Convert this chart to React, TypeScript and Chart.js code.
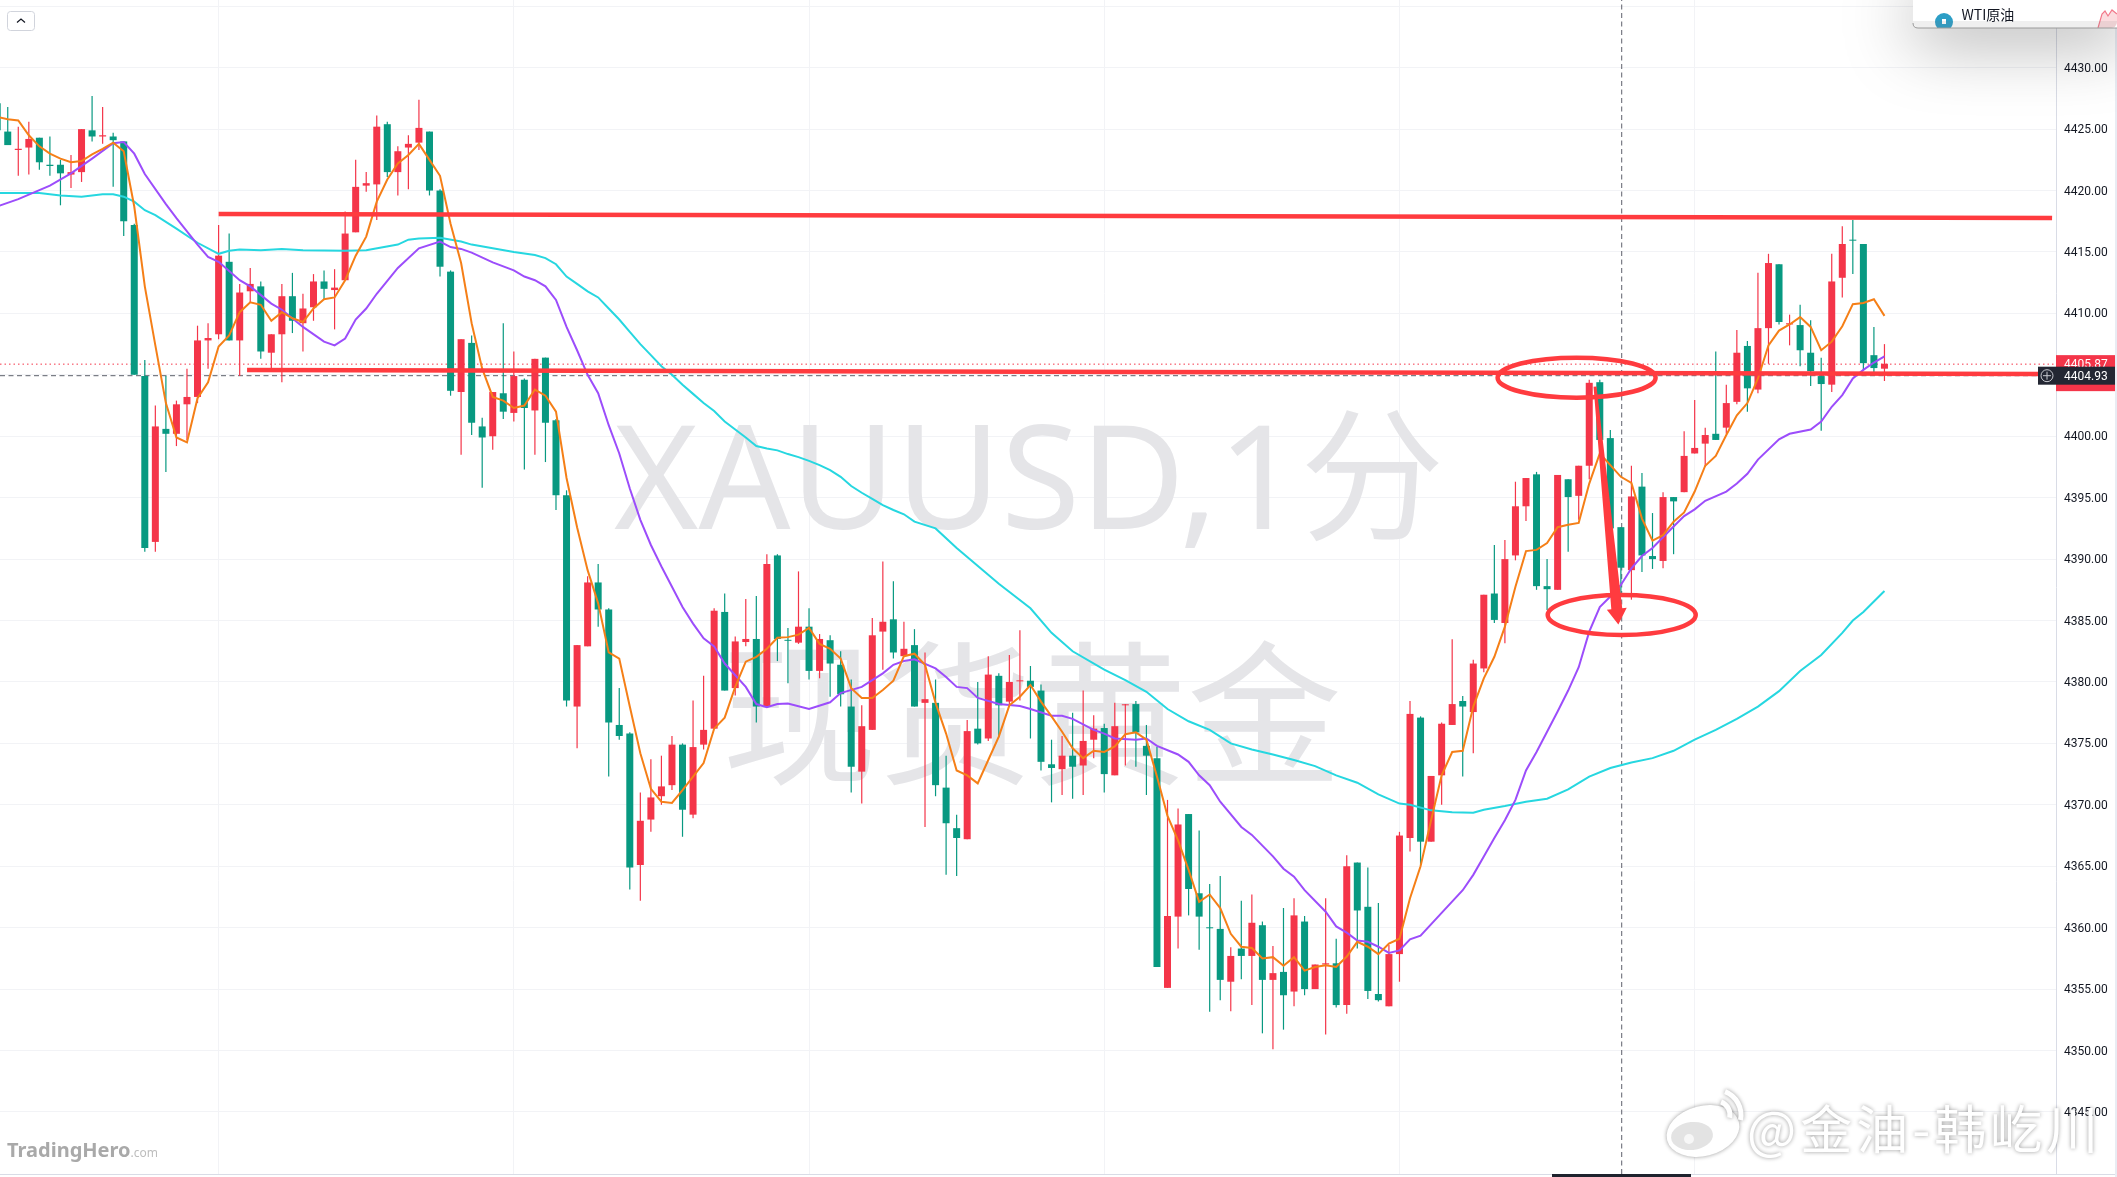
import React, { useEffect, useRef } from 'react';
import { Chart, registerables } from 'chart.js';

Chart.register(...registerables);

const opens = [
  4427.1,4424.8,4423.3,4423.5,4424.3,4422.1,4422.1,4421.3,4421.5,4424.9,
  4424.4,4424.4,4424.0,4417.2,4404.9,4391.4,4400.6,4400.2,4402.6,4403.2,
  4407.8,4408.3,4414.2,4407.8,4411.8,4412.2,4406.8,4408.3,4411.4,4409.2,
  4410.5,4412.6,4411.9,4412.7,4416.6,4420.4,4420.5,4425.4,4421.5,4423.5,
  4423.9,4424.8,4420.0,4413.4,4403.6,4407.6,4400.8,4400.0,4403.5,4401.9,
  4404.6,4402.1,4406.4,4401.3,4395.2,4378.0,4382.9,4388.1,4385.9,4376.5,
  4375.8,4365.1,4368.8,4370.7,4371.6,4374.9,4369.2,4374.9,4376.2,4385.7,
  4379.5,4383.25,4383.5,4378.0,4390.3,4383.4,4383.2,4384.5,4380.9,4383.4,
  4381.4,4378.0,4372.7,4376.1,4384.1,4385.1,4382.1,4383.0,4378.3,4378.3,
  4371.4,4368.1,4367.2,4376.2,4375.4,4380.5,4378.4,4380.05,4380.1,4379.3,
  4373.3,4372.9,4374.0,4373.2,4375.3,4376.25,4372.4,4378.1,4378.2,4374.8,
  4373.8,4355.1,4360.9,4369.25,4362.8,4360.0,4359.9,4355.6,4358.3,4357.7,
  4360.2,4355.75,4356.4,4354.8,4360.5,4355.0,4357.0,4357.1,4353.7,4365.3,
  4361.7,4354.6,4353.6,4357.85,4367.3,4377.1,4367.0,4372.4,4376.5,4378.45,
  4377.55,4381.1,4387.2,4384.8,4390.3,4394.3,4396.9,4387.8,4387.5,4396.5,
  4395.15,4397.6,4404.4,4399.85,4392.6,4389.1,4395.9,4390.25,4389.85,4395.05,
  4395.45,4398.6,4399.4,4400.2,4400.7,4402.8,4407.35,4403.8,4408.8,4414.0,
  4409.1,4409.05,4406.8,4404.9,4404.2,4412.9,4415.97,4415.65,4406.6,4405.5,
];

const closes = [
  4424.9,4423.7,4423.4,4424.2,4422.3,4422.0,4421.4,4421.5,4425.0,4424.4,
  4424.5,4424.1,4417.5,4405.0,4390.9,4400.8,4400.2,4402.6,4403.2,4407.8,
  4408.0,4414.7,4407.8,4411.7,4412.4,4406.9,4408.3,4411.4,4409.4,4410.4,
  4412.6,4412.0,4412.1,4416.5,4420.3,4420.6,4425.2,4421.5,4423.2,4423.8,
  4425.1,4420.0,4413.8,4403.7,4407.9,4401.1,4399.9,4403.6,4402.0,4404.9,
  4402.3,4406.3,4401.1,4395.2,4378.5,4383.0,4388.1,4385.9,4376.7,4375.6,
  4364.9,4368.7,4370.6,4371.5,4374.9,4369.6,4374.7,4376.1,4385.8,4379.3,
  4383.3,4383.5,4378.0,4389.6,4383.5,4383.35,4384.5,4380.9,4383.5,4381.5,
  4379.0,4373.1,4376.4,4383.8,4384.9,4382.4,4382.7,4378.0,4378.6,4371.6,
  4368.5,4367.3,4376.0,4375.0,4380.6,4378.1,4380.0,4380.1,4379.6,4373.5,
  4373.0,4374.0,4373.1,4375.2,4376.2,4372.5,4376.4,4378.15,4375.9,4374.0,
  4356.8,4360.95,4368.4,4363.15,4360.9,4359.95,4355.75,4357.7,4357.7,4360.4,
  4355.75,4356.3,4354.5,4361.0,4355.0,4357.0,4357.1,4353.7,4365.0,4361.4,
  4354.85,4354.1,4357.85,4367.5,4377.4,4367.0,4372.35,4376.6,4378.2,4378.0,
  4381.5,4387.1,4385.05,4390.0,4394.3,4396.6,4387.8,4387.55,4396.85,4395.05,
  4397.6,4404.35,4399.7,4392.5,4389.3,4395.1,4390.3,4390.0,4395.05,4394.7,
  4398.4,4399.05,4400.1,4399.7,4402.7,4406.8,4403.9,4408.8,4414.1,4409.3,
  4409.2,4407.0,4405.3,4404.25,4412.6,4415.65,4415.92,4405.95,4405.55,4405.9,
];

const highs = [
  4427.2,4426.8,4425.2,4425.6,4424.3,4424.4,4422.5,4422.9,4425.0,4427.7,
  4426.8,4424.7,4424.0,4417.3,4406.2,4402.5,4404.9,4402.9,4405.5,4409.0,
  4409.2,4417.2,4416.5,4412.4,4413.7,4412.6,4408.3,4412.4,4413.3,4411.6,
  4413.2,4413.5,4413.6,4418.3,4422.5,4421.5,4426.1,4425.6,4423.6,4424.5,
  4427.4,4424.8,4420.1,4413.5,4407.9,4408.2,4401.5,4403.6,4409.2,4406.9,
  4404.7,4406.3,4406.4,4401.4,4395.6,4383.0,4388.6,4389.6,4386.0,4379.5,
  4375.9,4371.0,4373.7,4374.0,4375.6,4375.0,4378.5,4380.5,4386.0,4387.2,
  4383.7,4386.75,4387.0,4390.4,4390.4,4384.4,4389.0,4386.0,4383.9,4383.8,
  4382.5,4380.2,4378.1,4385.2,4389.8,4388.2,4384.9,4384.3,4382.4,4380.2,
  4374.0,4369.2,4376.9,4380.0,4382.1,4380.7,4382.2,4384.2,4381.3,4379.8,
  4375.3,4375.6,4377.5,4379.3,4377.3,4376.6,4378.3,4378.2,4378.45,4376.5,
  4374.7,4370.4,4369.7,4369.25,4367.9,4363.55,4364.2,4358.4,4362.2,4362.7,
  4360.5,4358.5,4361.6,4362.4,4360.95,4357.0,4362.4,4359.1,4365.9,4365.3,
  4364.9,4362.0,4358.6,4367.8,4378.45,4377.2,4372.35,4376.7,4383.47,4378.85,
  4381.8,4387.1,4391.15,4391.55,4396.3,4396.6,4397.1,4390.0,4396.85,4396.5,
  4397.6,4404.6,4404.6,4400.5,4392.6,4397.6,4397.0,4393.75,4395.45,4395.05,
  4400.4,4402.95,4400.7,4406.9,4404.2,4408.65,4407.75,4413.3,4414.85,4414.0,
  4409.9,4410.7,4409.45,4406.4,4414.85,4417.1,4417.6,4415.65,4408.9,4407.5,
];

const lows = [
  4424.9,4423.7,4421.2,4421.3,4421.7,4421.2,4418.8,4420.2,4420.7,4424.0,
  4423.8,4420.3,4416.3,4405.0,4390.6,4390.6,4397.1,4399.2,4399.7,4402.7,
  4405.5,4407.9,4407.8,4404.9,4410.9,4406.3,4405.5,4404.4,4408.4,4406.9,
  4409.4,4411.1,4408.7,4412.7,4416.6,4419.9,4417.6,4421.1,4419.6,4420.1,
  4423.3,4419.6,4413.0,4403.3,4398.5,4400.1,4395.8,4398.9,4401.4,4401.2,
  4397.3,4398.5,4397.9,4394.0,4378.0,4374.6,4382.9,4384.5,4372.3,4375.3,
  4363.1,4362.2,4367.8,4370.0,4371.2,4367.4,4368.9,4374.5,4376.2,4379.3,
  4378.9,4382.9,4376.7,4378.0,4381.7,4379.9,4383.1,4380.2,4380.3,4378.8,
  4378.0,4371.0,4370.1,4376.1,4381.0,4381.9,4382.1,4378.0,4368.2,4370.7,
  4364.3,4364.2,4367.2,4374.9,4375.2,4375.5,4378.1,4378.5,4375.4,4372.8,
  4370.2,4370.8,4370.5,4370.8,4373.8,4371.0,4372.4,4373.2,4373.1,4370.8,
  4356.8,4355.1,4358.3,4361.0,4358.2,4353.15,4354.1,4353.2,4355.8,4353.7,
  4351.4,4350.1,4351.7,4353.6,4354.5,4355.0,4351.3,4353.5,4353.0,4358.3,
  4354.2,4354.0,4353.6,4355.6,4366.2,4365.1,4367.0,4370.0,4376.5,4372.3,
  4374.2,4380.8,4384.8,4383.15,4389.9,4393.1,4387.5,4385.85,4387.5,4390.6,
  4393.2,4396.5,4399.7,4392.5,4387.0,4386.7,4388.95,4389.2,4389.25,4390.4,
  4395.45,4398.6,4397.5,4399.7,4400.2,4402.6,4402.0,4403.5,4405.9,4409.1,
  4407.4,4405.7,4404.1,4400.45,4403.6,4411.3,4413.2,4405.4,4405.2,4404.5,
];

const orangeLine = [
  4426.0,4425.8,4425.7,4424.5,4423.6,4423.0,4422.6,4422.3,4422.4,4422.95,
  4423.4,4423.9,4423.2,4418.7,4412.2,4407.4,4402.7,4399.9,4399.5,4403.1,
  4404.4,4407.3,4408.2,4410.1,4410.9,4410.7,4409.4,4410.1,4409.6,4409.3,
  4410.4,4411.15,4411.3,4412.7,4414.7,4416.25,4419.1,4420.9,4422.2,4422.9,
  4423.8,4422.5,4421.2,4417.3,4414.1,4409.2,4405.5,4403.2,4402.9,4402.3,
  4402.5,4403.8,4403.3,4402.0,4396.6,4392.6,4389.1,4386.4,4382.4,4381.9,
  4378.0,4374.2,4371.3,4370.25,4370.15,4371.2,4372.3,4373.4,4376.2,4377.1,
  4379.6,4381.65,4382.05,4382.7,4383.6,4383.65,4383.85,4384.4,4383.1,4382.7,
  4381.9,4379.5,4378.7,4378.7,4379.35,4380.1,4382.1,4382.3,4381.4,4378.3,
  4375.8,4372.8,4372.4,4371.75,4373.65,4375.55,4378.1,4378.8,4379.75,4378.4,
  4377.2,4375.95,4374.6,4373.8,4374.4,4374.3,4374.75,4375.75,4375.9,4375.3,
  4372.3,4369.1,4367.1,4364.7,4362.1,4362.7,4361.6,4359.5,4358.45,4358.35,
  4357.5,4357.6,4356.9,4357.6,4356.5,4356.8,4356.95,4356.8,4357.65,4358.85,
  4358.45,4357.85,4358.7,4359.1,4362.4,4365.0,4368.75,4372.4,4374.3,4374.4,
  4378.0,4380.3,4382.05,4384.5,4387.75,4390.65,4390.75,4391.3,4392.6,4392.8,
  4392.95,4396.15,4398.6,4397.65,4396.7,4396.2,4393.3,4391.5,4391.95,4393.05,
  4393.8,4395.5,4397.6,4398.4,4400.1,4401.7,4402.7,4404.7,4407.4,4408.6,
  4409.1,4409.7,4408.9,4407.0,4407.7,4408.95,4410.75,4410.85,4411.15,4409.8,
];

// the two slower averages are smooth, so they were read at fewer bars
const purpleBars = [
  0,2,5,7,9,11,12,13,14,16,17,19,20,21,23,24,26,27,29,31,32,33,34,35,36,38,40,42,43,44,45,47,49,50,51,52,53,54,55,56,57,58,59,60,61,
  62,63,65,66,67,68,69,71,72,73,74,75,77,79,80,82,84,85,86,87,89,90,91,92,93,95,97,98,100,101,102,104,105,106,108,109,110,112,113,114,115,116,
  118,119,121,122,123,124,126,127,128,129,130,131,132,133,134,135,137,139,140,141,142,143,144,145,146,147,148,149,150,151,152,153,154,155,156,157,
  159,160,161,162,164,165,166,167,169,170,172,173,174,175,176,177,178,179,
];
const purpleValues = [
  4418.7,4419.3,4420.4,4421.4,4422.6,4423.85,4423.95,4423.0,4421.35,4418.9,4417.75,4415.6,4414.6,4414.2,4412.7,4412.2,4410.8,4410.3,4408.9,4407.7,4407.4,4407.95,4409.5,4410.4,4411.6,4413.7,4415.3,4415.85,4415.4,4415.25,4414.95,4414.15,4413.5,4413.0,4412.7,4412.2,4411.1,4408.9,4407.0,4405.0,4403.5,4400.9,4398.6,4395.75,4393.2,
  4391.15,4389.4,4386.1,4384.75,4383.55,4382.9,4381.5,4379.6,4378.2,4377.95,4378.2,4378.25,4377.8,4378.35,4379.1,4379.6,4380.7,4381.4,4381.7,4381.85,4381.1,4380.4,4379.6,4379.5,4378.7,4378.2,4378.05,4377.8,4377.25,4377.25,4377.0,4376.1,4375.8,4375.4,4375.3,4375.4,4374.8,4374.1,4373.5,4372.4,4371.6,4370.25,
  4368.2,4367.55,4365.8,4364.8,4364.15,4363.05,4361.3,4360.1,4359.6,4358.95,4358.85,4358.45,4357.95,4358.15,4359.05,4359.35,4361.2,4363.05,4364.3,4365.8,4367.3,4368.75,4370.4,4372.8,4374.3,4375.95,4377.6,4379.3,4381.2,4384.1,4386.1,4386.95,4387.9,4389.25,4390.25,4390.9,
  4392.65,4393.5,4394.05,4394.75,4395.5,4396.15,4396.95,4398.1,4399.75,4400.2,4400.55,4401.2,4402.4,4403.35,4404.7,4405.4,4406.0,4406.5,
];

const cyanBars = [
  0,2,4,6,8,10,11,12,13,14,15,17,19,21,22,23,25,27,29,33,35,38,39,40,42,44,45,47,49,51,52,53,54,55,56,57,58,59,60,61,62,63,64,65,66,67,68,69,70,71,72,73,74,75,76,77,78,79,80,81,82,83,84,85,86,87,
  89,91,95,98,100,102,105,107,109,111,113,115,117,119,121,123,125,127,129,131,133,134,136,138,140,141,143,145,147,149,151,153,155,157,159,161,163,165,167,169,171,173,175,176,177,179,
];
const cyanValues = [
  4419.8,4419.8,4419.8,4419.6,4419.5,4419.7,4419.7,4419.5,4419.1,4418.4,4418.0,4416.9,4415.75,4414.85,4415.1,4415.2,4415.15,4415.25,4415.15,4415.1,4415.15,4415.6,4416.0,4416.1,4416.15,4415.85,4415.6,4415.3,4415.0,4414.75,4414.5,4414.0,4413.0,4412.4,4411.8,4411.3,4410.4,4409.5,4408.5,4407.5,4406.6,4405.7,4405.0,4404.2,4403.45,4402.7,4402.05,4401.2,4400.55,4399.9,4399.2,4399.0,4398.85,4398.55,4398.3,4398.0,4397.65,4397.25,4396.7,4395.95,4395.4,4394.9,4394.4,4394.0,4393.65,4393.05,
  4392.5,4390.9,4388.0,4386.0,4384.0,4382.5,4381.0,4380.15,4379.2,4377.8,4376.8,4376.1,4375.0,4374.5,4374.1,4373.65,4373.15,4372.4,4371.8,4370.85,4370.1,4370.0,4369.55,4369.4,4369.35,4369.6,4369.9,4370.25,4370.5,4371.25,4372.3,4373.0,4373.45,4373.8,4374.4,4375.3,4376.1,4377.0,4378.0,4379.25,4380.9,4382.2,4384.0,4385.0,4385.7,4387.4,
];

const tickValues = [4345,4350,4355,4360,4365,4370,4375,4380,4385,4390,4395,4400,4405,4410,4415,4420,4425,4430,4435];
const gridBars = [21,49,77,105,133,161];

const lastPrice = 4405.87;
const crossPrice = 4404.93;
const crossBar = 154.08;
const upperLevel = { bars: [21, 194.9], prices: [4418.09, 4417.77] };
const lowerLevel = { bars: [23.7, 194], prices: [4405.4, 4405.07] };

const RED = '#f43549';
const GREEN = '#089981';
const MARK_RED = '#ff3b3f';

const toXY = (xs: number[], ys: number[]) => xs.map((x, i) => ({ x, y: ys[i] }));
const barIndex = opens.map((_, i) => i);
const candleColor = closes.map((c, i) => (c >= opens[i] ? RED : GREEN));

const X_MIN = 0.266;
const X_MAX = 195.27;
const Y_MIN = 4339.95;
const Y_MAX = 4435.51;

const overlayPlugin = {
  id: 'overlay',
  beforeDatasetsDraw(chart: any) {
    const { ctx } = chart;
    ctx.save();
    ctx.fillStyle = '#e5e5e8';
    ctx.textBaseline = 'alphabetic';
    ctx.textAlign = 'left';
    ctx.font = '144px "Noto Sans", "Noto Sans CJK SC", sans-serif';
    ctx.fillText('XAUUSD,1分', 614, 529);
    ctx.font = '155px "Noto Sans CJK SC", sans-serif';
    ctx.fillText('现货黄金', 722, 772);
    ctx.restore();
  },
  afterDatasetsDraw(chart: any) {
    const { ctx, scales } = chart;
    const x = scales.x;
    const y = scales.y;
    ctx.save();
    ctx.strokeStyle = MARK_RED;
    ctx.lineWidth = 4.5;
    ctx.beginPath();
    ctx.ellipse(x.getPixelForValue(149.8), y.getPixelForValue(4404.77), 79, 20, 0, 0, Math.PI * 2);
    ctx.stroke();
    ctx.beginPath();
    ctx.ellipse(x.getPixelForValue(crossBar), y.getPixelForValue(4385.45), 74, 20, 0, 0, Math.PI * 2);
    ctx.stroke();

    // hand drawn arrow, thin at the start and wide at the head
    const x0 = x.getPixelForValue(151.55);
    const y0 = y.getPixelForValue(4404.04);
    const x1 = x.getPixelForValue(153.76);
    const y1 = y.getPixelForValue(4384.67);
    const len = Math.hypot(x1 - x0, y1 - y0);
    const ux = (x1 - x0) / len;
    const uy = (y1 - y0) / len;
    const nx = -uy;
    const ny = ux;
    const hx = x1 - ux * 16;
    const hy = y1 - uy * 16;
    ctx.fillStyle = MARK_RED;
    ctx.beginPath();
    ctx.moveTo(x0 + nx * 1.5, y0 + ny * 1.5);
    ctx.lineTo(hx + nx * 5.5, hy + ny * 5.5);
    ctx.lineTo(hx + nx * 10, hy + ny * 10);
    ctx.lineTo(x1, y1);
    ctx.lineTo(hx - nx * 10, hy - ny * 10);
    ctx.lineTo(hx - nx * 5.5, hy - ny * 5.5);
    ctx.lineTo(x0 - nx * 1.5, y0 - ny * 1.5);
    ctx.closePath();
    ctx.fill();
    ctx.restore();
  },
  afterDraw(chart: any) {
    const { ctx, scales } = chart;
    const y = scales.y;
    ctx.save();

    // frame
    ctx.fillStyle = '#d9dce6';
    ctx.fillRect(0, 1174, 2117, 1);
    ctx.fillStyle = '#e9ecf3';
    ctx.fillRect(2115, 0, 2, 1177);
    ctx.fillStyle = '#1e222d';
    ctx.fillRect(1552, 1174, 139, 3);

    // price labels
    const lastY = y.getPixelForValue(lastPrice);
    const crossY = y.getPixelForValue(crossPrice);
    ctx.fillStyle = RED;
    ctx.fillRect(2056, lastY - 9, 59, 36);
    ctx.font = '12px Roboto, sans-serif';
    ctx.textBaseline = 'middle';
    ctx.textAlign = 'left';
    ctx.fillStyle = '#ffffff';
    ctx.fillText(lastPrice.toFixed(2), 2064, lastY + 1);
    ctx.fillStyle = '#232733';
    ctx.fillRect(2056, crossY - 9, 59, 18);
    ctx.fillRect(2038, crossY - 9, 18, 18);
    ctx.fillStyle = '#ffffff';
    ctx.fillText(crossPrice.toFixed(2), 2064, crossY + 1);
    ctx.strokeStyle = '#c8cad0';
    ctx.lineWidth = 1;
    ctx.beginPath();
    ctx.arc(2047, crossY, 6, 0, Math.PI * 2);
    ctx.moveTo(2043, crossY);
    ctx.lineTo(2051, crossY);
    ctx.moveTo(2047, crossY - 4);
    ctx.lineTo(2047, crossY + 4);
    ctx.stroke();

    // collapse button
    ctx.strokeStyle = '#d1d4dc';
    ctx.beginPath();
    ctx.roundRect(7.5, 11.5, 27, 19, 3);
    ctx.stroke();
    ctx.strokeStyle = '#131722';
    ctx.lineWidth = 1.2;
    ctx.beginPath();
    ctx.moveTo(17, 22.5);
    ctx.lineTo(21, 19);
    ctx.lineTo(25, 22.5);
    ctx.stroke();

    // popup in the top right corner
    ctx.save();
    ctx.shadowColor = 'rgba(0,0,0,0.4)';
    ctx.shadowBlur = 70;
    ctx.shadowOffsetY = 10;
    ctx.fillStyle = '#ffffff';
    ctx.beginPath();
    ctx.roundRect(1913, -12, 214, 40, 6);
    ctx.fill();
    ctx.restore();
    ctx.save();
    ctx.beginPath();
    ctx.roundRect(1913, -12, 204, 40, 6);
    ctx.clip();
    ctx.fillStyle = '#ffffff';
    ctx.fillRect(1913, 0, 204, 28);
    ctx.fillStyle = '#2c9ec6';
    ctx.beginPath();
    ctx.arc(1944, 22, 9, 0, Math.PI * 2);
    ctx.fill();
    ctx.fillStyle = '#ffffff';
    ctx.fillRect(1942, 19, 4, 5);
    ctx.fillStyle = '#131722';
    ctx.font = '14px "Noto Sans CJK SC", sans-serif';
    ctx.fillText('WTI原油', 1961.5, 15);
    ctx.fillStyle = '#fbdcdf';
    ctx.beginPath();
    ctx.moveTo(2098, 28);
    ctx.lineTo(2102, 14);
    ctx.lineTo(2105, 11);
    ctx.lineTo(2108, 16);
    ctx.lineTo(2112, 10);
    ctx.lineTo(2117, 14);
    ctx.lineTo(2117, 28);
    ctx.closePath();
    ctx.fill();
    ctx.strokeStyle = '#f2788a';
    ctx.beginPath();
    ctx.moveTo(2098, 28);
    ctx.lineTo(2102, 14);
    ctx.lineTo(2105, 11);
    ctx.lineTo(2108, 16);
    ctx.lineTo(2112, 10);
    ctx.lineTo(2117, 14);
    ctx.stroke();
    ctx.fillStyle = 'rgba(120,120,120,0.12)';
    ctx.fillRect(1913, 21, 204, 7);
    ctx.restore();
    ctx.strokeStyle = '#9a9a9a';
    ctx.lineWidth = 1;
    ctx.beginPath();
    ctx.moveTo(1913, 23);
    ctx.quadraticCurveTo(1913, 28, 1918, 28);
    ctx.lineTo(2117, 28);
    ctx.stroke();

    // site mark
    ctx.textBaseline = 'alphabetic';
    ctx.fillStyle = '#a9a9a9';
    ctx.font = 'bold 20px "Noto Sans", sans-serif';
    ctx.fillText('TradingHero', 7, 1157);
    const siteWidth = ctx.measureText('TradingHero').width;
    ctx.fillStyle = '#bdbdbd';
    ctx.font = '12px "Noto Sans", sans-serif';
    ctx.fillText('.com', 7 + siteWidth, 1157);

    // weibo mark
    ctx.save();
    ctx.shadowColor = 'rgba(0,0,0,0.4)';
    ctx.shadowBlur = 4;
    ctx.fillStyle = '#ffffff';
    ctx.beginPath();
    ctx.ellipse(1703, 1131, 37, 25, -0.25, 0, Math.PI * 2);
    ctx.fill();
    ctx.font = '52px "Noto Sans CJK SC", sans-serif';
    ctx.letterSpacing = '4px';
    ctx.fillText('@金油-韩屹川', 1747, 1149);
    ctx.letterSpacing = '0px';
    ctx.strokeStyle = '#ffffff';
    ctx.lineWidth = 5;
    ctx.beginPath();
    ctx.arc(1716, 1115, 14, -1.2, 0.2);
    ctx.stroke();
    ctx.beginPath();
    ctx.arc(1716, 1115, 25, -1.2, 0.2);
    ctx.stroke();
    ctx.restore();
    ctx.fillStyle = '#e3e3e3';
    ctx.beginPath();
    ctx.ellipse(1692, 1136, 21, 14, -0.1, 0, Math.PI * 2);
    ctx.fill();
    ctx.fillStyle = '#f7f7f7';
    ctx.beginPath();
    ctx.arc(1689, 1139, 5, 0, Math.PI * 2);
    ctx.fill();
    ctx.restore();
  },
};

export default function App() {
  const chartRef = useRef<HTMLCanvasElement>(null);

  useEffect(() => {
    if (!chartRef.current) return;
    const chart = new Chart(chartRef.current, {
      type: 'bar',
      data: {
        datasets: [
          {
            type: 'line',
            data: toXY(upperLevel.bars, upperLevel.prices),
            borderColor: MARK_RED,
            borderWidth: 4.5,
            pointRadius: 0,
            order: 0,
          },
          {
            type: 'line',
            data: toXY(lowerLevel.bars, lowerLevel.prices),
            borderColor: MARK_RED,
            borderWidth: 4.5,
            pointRadius: 0,
            order: 0,
          },
          {
            type: 'line',
            data: toXY(barIndex, orangeLine),
            borderColor: '#f57f17',
            borderWidth: 2,
            pointRadius: 0,
            tension: 0,
            order: 1,
          },
          {
            type: 'line',
            data: toXY(purpleBars, purpleValues),
            borderColor: '#9c4dfb',
            borderWidth: 2,
            pointRadius: 0,
            tension: 0,
            order: 2,
          },
          {
            type: 'line',
            data: toXY(cyanBars, cyanValues),
            borderColor: '#26d7e0',
            borderWidth: 2,
            pointRadius: 0,
            tension: 0,
            order: 3,
          },
          {
            data: barIndex.map((i) => ({ x: i, y: [opens[i], closes[i]] })),
            backgroundColor: candleColor,
            barThickness: 7,
            grouped: false,
            inflateAmount: 0,
            minBarLength: 1,
            order: 4,
          },
          {
            data: barIndex.map((i) => ({ x: i, y: [lows[i], highs[i]] })),
            backgroundColor: candleColor,
            barThickness: 1.2,
            grouped: false,
            inflateAmount: 0,
            order: 5,
          },
          {
            type: 'line',
            data: toXY([X_MIN, X_MAX], [lastPrice, lastPrice]),
            borderColor: RED,
            borderWidth: 1,
            borderDash: [1.5, 3],
            pointRadius: 0,
            order: 6,
          },
          {
            type: 'line',
            data: toXY([X_MIN, X_MAX], [crossPrice, crossPrice]),
            borderColor: '#5d606b',
            borderWidth: 1,
            borderDash: [5, 3.5],
            pointRadius: 0,
            order: 6,
          },
          {
            type: 'line',
            data: toXY([crossBar, crossBar], [Y_MIN, Y_MAX]),
            borderColor: '#5d606b',
            borderWidth: 1,
            borderDash: [5, 3.5],
            pointRadius: 0,
            order: 6,
          },
        ],
      } as any,
      options: {
        responsive: false,
        animation: false,
        devicePixelRatio: 1,
        events: [],
        layout: { padding: { left: 0, top: 0, right: 0, bottom: 3 } },
        plugins: { legend: { display: false }, tooltip: { enabled: false } },
        scales: {
          x: {
            type: 'linear',
            offset: false,
            min: X_MIN,
            max: X_MAX,
            border: { display: false },
            grid: { color: '#f2f3f6', drawTicks: false, offset: false },
            ticks: { display: false },
            afterBuildTicks: (scale: any) => {
              scale.ticks = gridBars.map((value) => ({ value }));
            },
            afterFit: (scale: any) => {
              scale.height = 0;
            },
          },
          y: {
            position: 'right',
            min: Y_MIN,
            max: Y_MAX,
            border: { color: '#d9dce6' },
            grid: { color: '#f2f3f6', drawTicks: false },
            ticks: {
              color: '#131722',
              padding: 8,
              labelOffset: 1,
              autoSkip: false,
              font: { family: 'Roboto, sans-serif', size: 12 },
              callback: (value: any) => Number(value).toFixed(2),
            },
            afterBuildTicks: (scale: any) => {
              scale.ticks = tickValues.map((value) => ({ value }));
            },
            afterFit: (scale: any) => {
              scale.width = 61;
              scale.paddingTop = 0;
              scale.paddingBottom = 0;
            },
          },
        },
      } as any,
      plugins: [overlayPlugin],
    });

    return () => chart.destroy();
  }, []);

  return (
    <div style={{ position: 'fixed', left: 0, top: 0, width: 2117, height: 1177, background: '#fff' }}>
      <canvas ref={chartRef} width={2117} height={1177} style={{ display: 'block' }} />
    </div>
  );
}
